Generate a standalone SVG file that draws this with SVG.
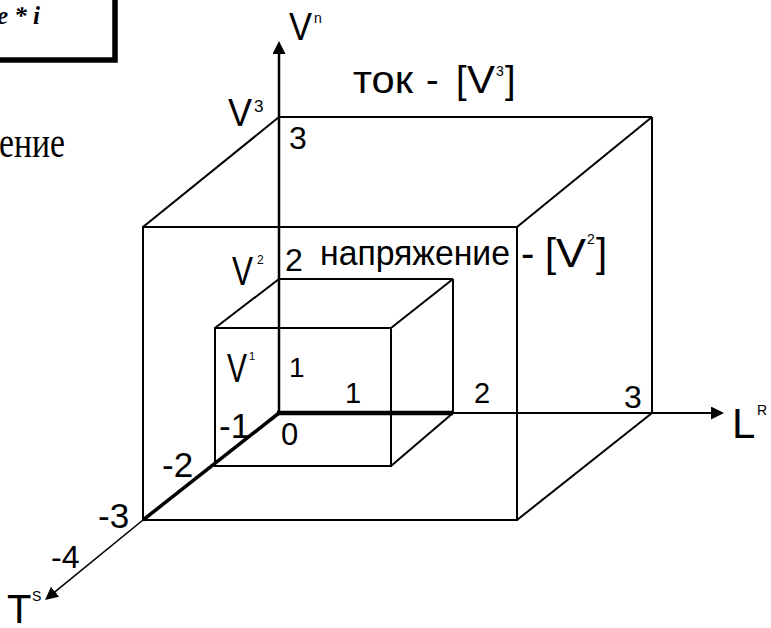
<svg xmlns="http://www.w3.org/2000/svg" width="771" height="628" viewBox="0 0 771 628">
<style>
.ln{stroke:#000;stroke-width:2;fill:none}
.ax{stroke:#000;fill:none}
.t{font-family:"Liberation Sans",Arial,sans-serif;fill:#000}
.s{font-family:"Liberation Serif","Times New Roman",serif;fill:#000}
</style>
<defs>
<marker id="arr" markerUnits="userSpaceOnUse" markerWidth="14" markerHeight="14" refX="7" refY="6.5" orient="auto" viewBox="0 0 14 14">
<path d="M0,0 L13,6.5 L0,13 z" fill="#000"/>
</marker>
</defs>
<rect width="771" height="628" fill="#fff"/>

<g id="formula-box">
<rect x="-20" y="-20" width="135" height="80" fill="none" stroke="#000" stroke-width="5.5"/>
<text class="s" x="-3" y="24" font-size="25" font-weight="bold" font-style="italic">e * i</text>
</g>
<g id="caption-left">
<text class="s" x="-1" y="157" font-size="44" textLength="66" lengthAdjust="spacingAndGlyphs">ение</text>
</g>

<g id="cube-large">
<line class="ln" x1="279" y1="117" x2="652" y2="117"/>
<line class="ln" x1="652" y1="117" x2="652" y2="413"/>
<rect class="ln" x="143" y="227" width="374" height="293"/>
<line class="ln" x1="143" y1="227" x2="279" y2="117"/>
<line class="ln" x1="517" y1="227" x2="652" y2="117"/>
<line class="ln" x1="517" y1="520" x2="652" y2="413"/>
</g>

<g id="cube-medium">
<line class="ln" x1="279" y1="279" x2="453" y2="279"/>
<line class="ln" x1="453" y1="279" x2="453" y2="413"/>
<rect class="ln" x="215" y="328" width="176" height="138"/>
<line class="ln" x1="215" y1="328" x2="279" y2="279"/>
<line class="ln" x1="391" y1="328" x2="453" y2="279"/>
<line class="ln" x1="391" y1="466" x2="453" y2="413"/>
</g>

<g id="connectors">
<line class="ax" x1="279" y1="414" x2="279" y2="47" stroke-width="2.5" marker-end="url(#arr)"/>
<line class="ax" x1="277" y1="413" x2="453" y2="413" stroke-width="4.5"/>
<line class="ax" x1="453" y1="413" x2="718" y2="413" stroke-width="2" marker-end="url(#arr)"/>
<line class="ax" x1="279" y1="413" x2="143" y2="520" stroke-width="3.5"/>
<line class="ax" x1="143" y1="520" x2="49.7" y2="596.2" stroke-width="1.6" marker-end="url(#arr)"/>
</g>

<g id="axis-V">
<text class="t" x="289" y="40" font-size="39" textLength="23" lengthAdjust="spacingAndGlyphs">V</text>
<text class="t" x="314" y="23" font-size="14">n</text>
</g>
<g id="label-tok">
<text class="t" x="353" y="93" font-size="38" textLength="60" lengthAdjust="spacingAndGlyphs">ток</text>
<text class="t" x="426" y="93" font-size="38">-</text>
<text class="t" x="456" y="93" font-size="38">[</text>
<text class="t" x="467" y="93" font-size="38" textLength="28" lengthAdjust="spacingAndGlyphs">V</text>
<text class="t" x="496" y="76" font-size="14">3</text>
<text class="t" x="505" y="93" font-size="38">]</text>
</g>
<g id="tick-V3">
<text class="t" x="228" y="126" font-size="39" textLength="24" lengthAdjust="spacingAndGlyphs">V</text>
<text class="t" x="254" y="112" font-size="17">3</text>
<text class="t" x="289" y="149" font-size="32">3</text>
</g>
<g id="tick-V2">
<text class="t" x="232" y="285" font-size="40" textLength="21" lengthAdjust="spacingAndGlyphs">V</text>
<text class="t" x="257" y="264" font-size="12">2</text>
<text class="t" x="285" y="271" font-size="32">2</text>
</g>
<g id="label-napr">
<text class="t" x="320" y="265" font-size="35" textLength="190" lengthAdjust="spacingAndGlyphs">напряжение</text>
<text class="t" x="521" y="267" font-size="40">-</text>
<text class="t" x="545" y="267" font-size="40">[</text>
<text class="t" x="556" y="267" font-size="40" textLength="30" lengthAdjust="spacingAndGlyphs">V</text>
<text class="t" x="587" y="244" font-size="14">2</text>
<text class="t" x="596" y="267" font-size="40">]</text>
</g>
<g id="tick-V1">
<text class="t" x="227" y="382" font-size="40" textLength="20" lengthAdjust="spacingAndGlyphs">V</text>
<text class="t" x="249" y="360" font-size="11">1</text>
<text class="t" x="289" y="377" font-size="28">1</text>
</g>
<g id="axis-L">
<text class="t" x="345" y="403" font-size="29">1</text>
<text class="t" x="474" y="403" font-size="29">2</text>
<text class="t" x="624" y="408" font-size="32">3</text>
<text class="t" x="732" y="438" font-size="42">L</text>
<text class="t" x="757" y="415" font-size="14">R</text>
</g>
<g id="axis-T">
<text class="t" x="219" y="438" font-size="35">-1</text>
<text class="t" x="281" y="445" font-size="31">0</text>
<text class="t" x="162" y="477" font-size="35">-2</text>
<text class="t" x="98" y="528" font-size="35">-3</text>
<text class="t" x="51" y="568" font-size="32">-4</text>
<text class="t" x="7" y="623" font-size="40">T</text>
<text class="t" x="32" y="601" font-size="14">S</text>
</g>
</svg>
